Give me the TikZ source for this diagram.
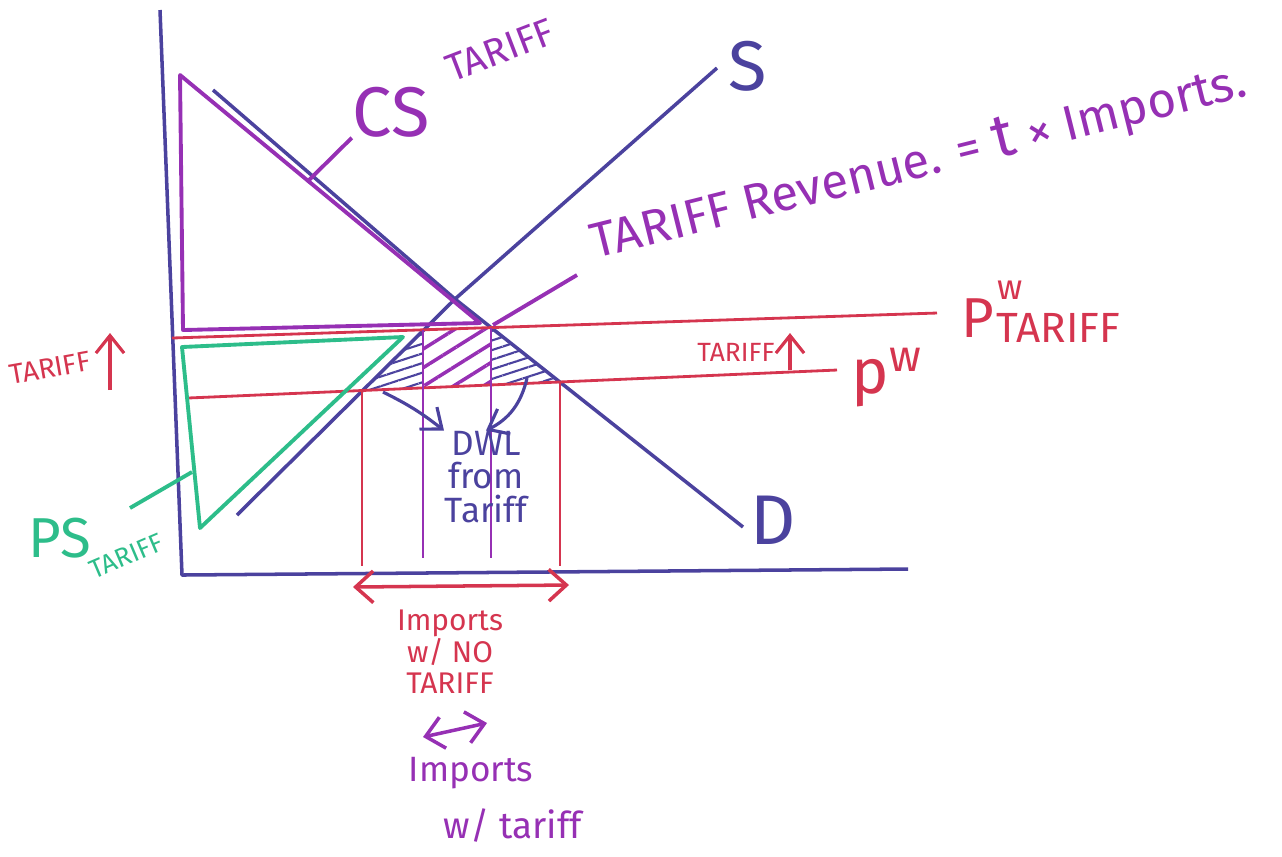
\documentclass[tikz,border=0pt]{standalone}
\usepackage{fontspec}
\setmainfont{Fira Sans}
\usetikzlibrary{arrows.meta, positioning, patterns.meta}
\definecolor{tfblue}{HTML}{4B429E}
\definecolor{tfpurple}{HTML}{9630B4}
\definecolor{tfred}{HTML}{D5354F}
\definecolor{tfgreen}{HTML}{2DBD8A}

\begin{document}
\begin{tikzpicture}[
      x=0.01cm, y=-0.01cm,
      curve/.style={line width=1pt, tfblue, line join=round},
      price/.style={line width=0.8pt, tfred},
      surplus/.style={line width=1.1pt, line join=round},
      guide/.style={line width=0.8pt},
      lbl/.style={inner sep=0pt},
      twoway/.style={line width=1pt, {Straight Barb[length=5pt, width=9pt]}-{Straight Barb[length=5pt, width=9pt]}},
      oneway/.style={line width=0.9pt, -{Straight Barb[length=5pt, width=8pt]}}
    ]
      \useasboundingbox (0,0) rectangle (1282,856);

      % axes
      \coordinate (ytop) at (160,10);
      \coordinate (O) at (182,575);
      \coordinate (xend) at (908,569);
      \coordinate (base) at (0,566);
      \coordinate (pbase) at (0,558);

      % supply, demand and their crossing
      \coordinate (E) at (455,299);
      \coordinate (s0) at (237,515);
      \coordinate (s1) at (717,68);
      \coordinate (d0) at (213,90);
      \coordinate (d1) at (743,527);

      % world price with and without tariff
      \coordinate (pt0) at (172,338);
      \coordinate (pt1) at (937,313);
      \coordinate (pw0) at (188,398);
      \coordinate (pw1) at (837,370);

      % cuts of S and D with the two prices
      \coordinate (sw) at (362,390);
      \coordinate (st) at (423,330);
      \coordinate (dt) at (491,328);
      \coordinate (dw) at (560,382);
      \coordinate (stw) at (423,388);
      \coordinate (dtw) at (491,385);

      \fill[pattern={Lines[angle=32, distance=4.5pt, line width=1pt]}, pattern color=tfpurple]
        (st) -- (dt) -- (dtw) -- (stw) -- cycle;
      \fill[pattern={Lines[angle=18, distance=2.6pt, line width=0.6pt]}, pattern color=tfblue]
        (sw) -- (st) -- (stw) -- cycle;
      \fill[pattern={Lines[angle=18, distance=2.6pt, line width=0.6pt]}, pattern color=tfblue]
        (dt) -- (dw) -- (dtw) -- cycle;

      \draw[curve] (ytop) -- (O) -- (xend);
      \draw[curve] (s0) -- (E) -- (s1);
      \draw[curve] (d0) -- (E) -- (d1);
      \draw[price] (pt0) -- (pt1);
      \draw[price] (pw0) -- (pw1);

      % surpluses
      \draw[surplus, tfpurple] (180,75) -- (183,330) -- (480,323) -- cycle;
      \draw[surplus, tfgreen] (182,347) -- (403,337) -- (200,528) -- cycle;

      % import quantities
      \draw[guide, tfred] (sw) -- (sw |- base);
      \draw[guide, tfred] (dw) -- (dw |- base);
      \draw[guide, tfpurple] (st) -- (st |- pbase);
      \draw[guide, tfpurple] (dt) -- (dt |- pbase);

      % curve labels
      \node[lbl, tfblue, font=\fontsize{20}{20}\selectfont] (slbl) at (748,66) {S};
      \node[lbl, tfblue, font=\fontsize{20}{20}\selectfont] (dlbl) at (773,520) {D};

      \node[lbl, tfpurple, font=\fontsize{20}{20}\selectfont] (cs) at (391,112) {CS};
      \node[lbl, tfpurple, font=\fontsize{11}{11}\selectfont, rotate=21] (cstar) at (500,50) {TARIFF};
      \coordinate (cspt) at (307,182);
      \draw[surplus, tfpurple] (cspt) -- (cs.south west);

      \node[tfpurple, font=\fontsize{14}{14}\selectfont, rotate=14, anchor=south west,
        inner xsep=6pt, inner ysep=0pt] (rev) at (577,275) {TARIFF Revenue. = {\LARGE t} × Imports.};
      \coordinate (revpt) at (493,325);
      \draw[surplus, tfpurple] (revpt) -- (rev.south west);

      \node[lbl, tfred, font=\fontsize{16}{16}\selectfont] (pwtP) at (978,318) {P};
      \node[lbl, tfred, font=\fontsize{10}{10}\selectfont] (pwtw) at (1010,290) {w};
      \node[lbl, tfred, font=\fontsize{12}{12}\selectfont, anchor=west] (pwtsub) at (996,328) {TARIFF};
      \node[lbl, tfred, font=\fontsize{18}{18}\selectfont] (pw) at (887,378) {$\mathrm{p}^{\mathrm{w}}$};

      \node[lbl, tfred, font=\fontsize{7.5}{7.5}\selectfont] (tfR) at (736,352) {TARIFF};
      \coordinate (upR) at (790,370);
      \draw[oneway, tfred] (upR) -- ++(0,-37);
      \node[lbl, tfred, font=\fontsize{8}{8}\selectfont, rotate=10] (tfL) at (50,368) {TARIFF};
      \coordinate (upL) at (110,390);
      \draw[oneway, tfred] (upL) -- ++(0,-57);

      \node[lbl, tfgreen, font=\fontsize{16}{16}\selectfont] (ps) at (60,538) {PS};
      \node[lbl, tfgreen, font=\fontsize{7.5}{7.5}\selectfont, rotate=23] (pstar) at (126,556) {TARIFF};
      \coordinate (psarm) at (130,508);
      \coordinate (pstip) at (192,472);
      \draw[surplus, tfgreen] (psarm) -- (pstip);

      % dead weight loss
      \node[lbl, tfblue, align=center, font=\fontsize{10}{9.5}\selectfont] (dwl) at (486,477) {DWL\\from\\Tariff};
      \coordinate (dwlL) at (383,392);
      \coordinate (dwlR) at (527,378);
      \draw[oneway, tfblue] (dwlL) to[bend left=6] (dwl.north west);
      \draw[oneway, tfblue] (dwlR) to[bend left=25] (dwl.north);

      % imports
      \coordinate (ia0) at (353,587);
      \coordinate (ia1) at (569,585);
      \draw[twoway, tfred] (ia0) -- (ia1);
      \node[lbl, tfred, align=center, font=\fontsize{8.5}{9}\selectfont] (impno) at (450,652) {Imports\\w/ NO\\TARIFF};

      \coordinate (ib0) at (423,737);
      \coordinate (ib1) at (487,723);
      \draw[twoway, tfpurple] (ib0) -- (ib1);
      \node[lbl, tfpurple, font=\fontsize{10}{10}\selectfont] (impt) at (471,773) {Imports};
      \node[lbl, tfpurple, font=\fontsize{10.5}{10.5}\selectfont] (impt2) at (513,825) {w/ tariff};
    \end{tikzpicture}
\end{document}
